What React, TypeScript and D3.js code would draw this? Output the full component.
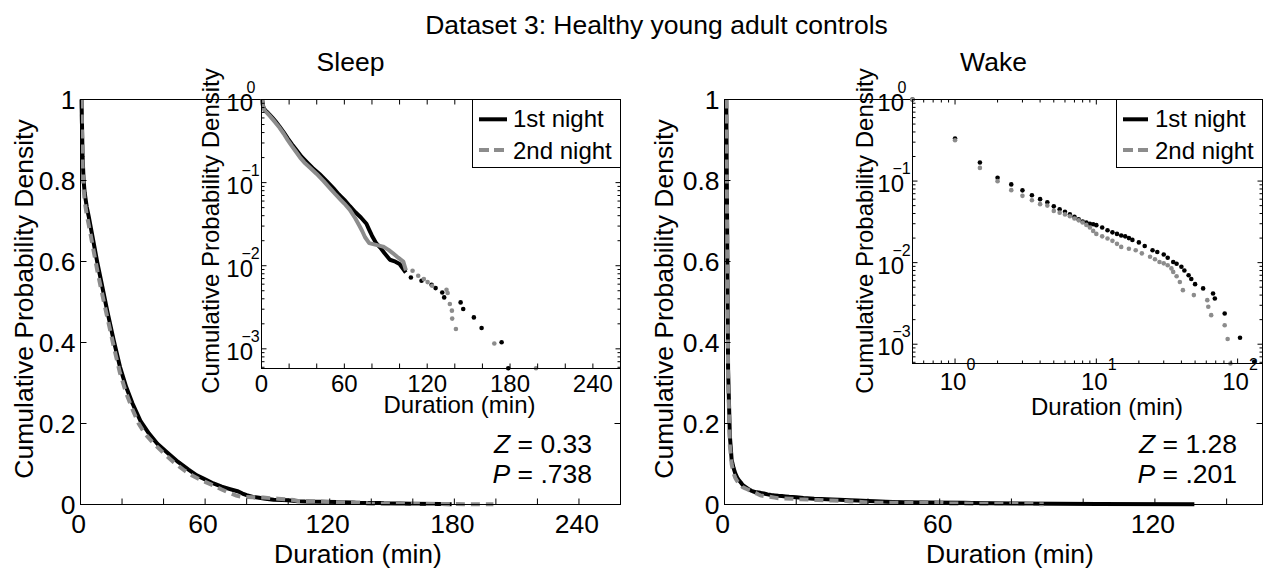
import React from 'react';
import * as d3 from 'd3';

const FONT = '"Liberation Sans", Arial, Helvetica, sans-serif';
const BLACK = '#000000';
const GRAY = '#8c8c8c';
const MAIN_FS = 26.5;
const INSET_FS = 24;
const SUP_FS = 16;

// ---------------- Data: Sleep ----------------
const sleepN1Dur = [0.5, 1, 1.5, 2, 3, 4, 6, 8, 10, 13, 16, 19, 22, 25, 29, 33, 37, 42, 47, 52, 56, 60, 64, 68, 72, 76, 78, 80, 83, 86, 89, 93, 97, 100, 104.5];
const sleepN1Val = [1, 0.86, 0.8, 0.77, 0.735, 0.71, 0.655, 0.6, 0.55, 0.475, 0.405, 0.34, 0.29, 0.25, 0.205, 0.175, 0.15, 0.127, 0.105, 0.086, 0.072, 0.062, 0.052, 0.044, 0.038, 0.032, 0.027, 0.023, 0.0187, 0.0165, 0.0142, 0.0118, 0.0112, 0.0105, 0.0083];
const sleepN1TailDur = [108.2, 115.9, 123.2, 126.1, 130.9, 132.3, 144.2, 146.1, 153.8, 159.4, 173.9, 178.7];
const sleepN1TailVal = [0.00722, 0.00659, 0.0059, 0.00538, 0.00477, 0.00416, 0.00362, 0.00301, 0.00239, 0.00178, 0.0012, 0.000583];

const sleepN2Dur = [0.5, 1, 1.5, 2, 3, 4, 6, 8, 10, 13, 16, 19, 22, 25, 28, 31, 35, 40, 45, 50, 54, 57, 60, 64, 68, 71, 73, 75, 78, 83, 88, 92, 95, 99, 102.7, 104.6];
const sleepN2Val = [1, 0.84, 0.78, 0.75, 0.715, 0.69, 0.635, 0.58, 0.53, 0.46, 0.39, 0.325, 0.275, 0.235, 0.2, 0.175, 0.152, 0.127, 0.104, 0.084, 0.071, 0.063, 0.056, 0.047, 0.037, 0.03, 0.026, 0.022, 0.0187, 0.0178, 0.017, 0.0155, 0.0142, 0.0125, 0.0112, 0.0088];
const sleepN2TailDur = [109.4, 113.5, 117.6, 120.3, 123.6, 134, 134.8, 136.4, 137.9, 138.1, 140.8, 168.6, 198.8];
const sleepN2TailVal = [0.00869, 0.00757, 0.0069, 0.00635, 0.00574, 0.00514, 0.00469, 0.00346, 0.00288, 0.00231, 0.00173, 0.00116, 0.000583];

// ---------------- Data: Wake ----------------
const wakeN1Dur = [0.5, 1, 1.5, 2, 2.5, 3, 3.5, 4, 4.5, 5, 5.5, 6, 6.5, 7, 7.5, 8, 8.5, 9, 9.5, 10, 11, 12, 13, 14, 15, 16, 17, 18, 20, 22, 25, 27, 30, 32, 35, 37, 40, 42, 45, 47, 50, 57, 67, 69, 81, 104, 131];
const wakeN1Val = [1, 0.333, 0.169, 0.11, 0.091, 0.077, 0.067, 0.06, 0.055, 0.049, 0.045, 0.042, 0.039, 0.0365, 0.034, 0.032, 0.031, 0.03, 0.0295, 0.0288, 0.027, 0.025, 0.0235, 0.0225, 0.0215, 0.021, 0.02, 0.019, 0.0177, 0.016, 0.0142, 0.0135, 0.0126, 0.0115, 0.0102, 0.0097, 0.0089, 0.008, 0.007, 0.0063, 0.00545, 0.00483, 0.00419, 0.00364, 0.00238, 0.0012, 0.00061];

const wakeN2Dur = [0.5, 1, 1.5, 2, 2.5, 3, 3.5, 4, 4.5, 5, 5.5, 6, 6.5, 7, 7.5, 8, 8.5, 9, 9.5, 10, 11, 12, 13, 14, 15, 17, 19, 21, 24, 26, 28, 30, 32, 34, 35, 37, 39, 41, 49, 61, 62, 65, 81, 85, 89];
const wakeN2Val = [1, 0.317, 0.145, 0.0997, 0.0774, 0.0659, 0.0583, 0.0521, 0.05, 0.0431, 0.041, 0.039, 0.037, 0.0348, 0.033, 0.031, 0.029, 0.027, 0.0245, 0.0225, 0.021, 0.0198, 0.0185, 0.017, 0.0156, 0.0148, 0.0142, 0.013, 0.0118, 0.011, 0.0102, 0.0098, 0.0093, 0.0085, 0.0077, 0.0068, 0.0058, 0.0046, 0.004, 0.00347, 0.00288, 0.00227, 0.00171, 0.00116, 0.00058];

// ---------------- Ticks / labels ----------------
const mainYTicks = [0, 0.2, 0.4, 0.6, 0.8, 1];
const mainYTickLabels = ['0', '0.2', '0.4', '0.6', '0.8', '1'];
const sleepXTicks = [0, 20, 40, 60, 80, 100, 120, 140, 160, 180, 200, 220, 240];
const sleepXLabels = [0, 60, 120, 180, 240];
const wakeXTicks = [0, 20, 40, 60, 80, 100, 120, 140];
const wakeXLabels = [0, 60, 120];
const logYMajor = [1e-3, 1e-2, 1e-1, 1];
const logYExp = ['\u22123', '\u22122', '\u22121', '0'];
const wakeInsetXMajor = [1, 10, 100];
const wakeInsetXExp = ['0', '1', '2'];
const legendLabels = ['1st night', '2nd night'];
const statsSleep = ['0.33', '.738'];
const statsWake = ['1.28', '.201'];

const zip = (a: number[], b: number[]) => a.map((v, i) => [v, b[i]] as [number, number]);

function logMinors(lo: number, hi: number) {
  const out: number[] = [];
  for (let e = -5; e <= 3; e++) {
    for (let k = 2; k <= 9; k++) {
      const v = k * Math.pow(10, e);
      if (v > lo * 1.0001 && v < hi * 0.9999) out.push(v);
    }
  }
  return out;
}

type Box = { x0: number; x1: number; y0: number; y1: number };

function MainPanel(p: {
  box: Box; xMax: number; xTicks: number[]; xLabels: number[];
  a: [number, number][]; b: [number, number][];
  title: string; xLabelX: number; yLabelX: number; stats: string[]; statsX: number;
}) {
  const { x0, x1, y0, y1 } = p.box;
  const x = d3.scaleLinear().domain([0, p.xMax]).range([x0, x1]);
  const y = d3.scaleLinear().domain([0, 1]).range([y1, y0]);
  const line = d3.line<[number, number]>().x(d => x(d[0])).y(d => y(d[1]));
  return (
    <g>
      <path d={line(p.a) || ''} fill="none" stroke={BLACK} strokeWidth={4} strokeLinejoin="round" />
      <path d={line(p.b) || ''} fill="none" stroke={GRAY} strokeWidth={4} strokeDasharray="9,6" />
      <rect x={x0} y={y0} width={x1 - x0} height={y1 - y0} fill="none" stroke="#000" strokeWidth={1} />
      {p.xTicks.map(t => (
        <line key={'xt' + t} x1={x(t)} x2={x(t)} y1={y1} y2={y1 - 6} stroke="#000" strokeWidth={1} />
      ))}
      {mainYTicks.map(v => (
        <g key={'yt' + v}>
          <line x1={x0} x2={x0 + 6} y1={y(v)} y2={y(v)} stroke="#000" strokeWidth={1} />
          <line x1={x1} x2={x1 - 6} y1={y(v)} y2={y(v)} stroke="#000" strokeWidth={1} />
        </g>
      ))}
      {mainYTicks.map((v, i) => (
        <text key={'yl' + v} x={x0 - 5} y={y(v) + 9.5} fontSize={MAIN_FS} textAnchor="end">{mainYTickLabels[i]}</text>
      ))}
      {p.xLabels.map(t => (
        <text key={'xl' + t} x={x(t) - 2} y={533} fontSize={MAIN_FS} textAnchor="middle">{String(t)}</text>
      ))}
      <text x={p.xLabelX} y={563} fontSize={MAIN_FS} textAnchor="middle">Duration (min)</text>
      <text transform={`translate(${p.yLabelX},299) rotate(-90)`} fontSize={MAIN_FS} textAnchor="middle">Cumulative Probability Density</text>
      <text x={(x0 + x1) / 2} y={71} fontSize={MAIN_FS} textAnchor="middle">{p.title}</text>
      <text x={p.statsX} y={453} fontSize={MAIN_FS} textAnchor="end"><tspan fontStyle="italic">Z</tspan> = {p.stats[0]}</text>
      <text x={p.statsX} y={483} fontSize={MAIN_FS} textAnchor="end"><tspan fontStyle="italic">P</tspan> = {p.stats[1]}</text>
    </g>
  );
}

function Legend(p: { lx0: number; lx1: number; y0: number; lineX0: number; lineX1: number; textX: number }) {
  return (
    <g>
      <rect x={p.lx0} y={p.y0} width={p.lx1 - p.lx0} height={167.5 - p.y0} fill="#fff" stroke="#000" strokeWidth={1} />
      <line x1={p.lineX0} x2={p.lineX1} y1={119.3} y2={119.3} stroke={BLACK} strokeWidth={4} />
      <line x1={p.lineX0} x2={p.lineX1} y1={150} y2={150} stroke={GRAY} strokeWidth={4} strokeDasharray="10,5" />
      <text x={p.textX} y={127} fontSize={INSET_FS}>{legendLabels[0]}</text>
      <text x={p.textX} y={159} fontSize={INSET_FS}>{legendLabels[1]}</text>
    </g>
  );
}

function LogYAxis(p: { box: Box; y: d3.ScaleLogarithmic<number, number> }) {
  const { x0, x1 } = p.box;
  const minors = logMinors(p.y.domain()[0], p.y.domain()[1]);
  return (
    <g>
      {logYMajor.map((v, i) => (
        <g key={'ly' + v}>
          <line x1={x0} x2={x0 + 5} y1={p.y(v)} y2={p.y(v)} stroke="#000" />
          <line x1={x1} x2={x1 - 5} y1={p.y(v)} y2={p.y(v)} stroke="#000" />
          <text x={x0 - 8.5} y={p.y(v) + 11} fontSize={INSET_FS} textAnchor="end">10</text>
          <text x={v === 1 ? x0 - 15 : x0 - 20} y={p.y(v) - 7} fontSize={SUP_FS}>{logYExp[i]}</text>
        </g>
      ))}
      {minors.map(v => (
        <g key={'lym' + v}>
          <line x1={x0} x2={x0 + 3} y1={p.y(v)} y2={p.y(v)} stroke="#000" />
          <line x1={x1} x2={x1 - 3} y1={p.y(v)} y2={p.y(v)} stroke="#000" />
        </g>
      ))}
    </g>
  );
}

function SleepInset(p: { box: Box }) {
  const { x0, x1, y0, y1 } = p.box;
  const x = d3.scaleLinear().domain([0, 260]).range([x0, x1]);
  const y = d3.scaleLog().domain([0.00058, 1]).range([y1, y0]);
  const line = d3.line<[number, number]>().x(d => x(d[0])).y(d => y(d[1]));
  const a = zip(sleepN1Dur, sleepN1Val);
  const b = zip(sleepN2Dur, sleepN2Val);
  const at = zip(sleepN1TailDur, sleepN1TailVal);
  const bt = zip(sleepN2TailDur, sleepN2TailVal);
  return (
    <g>
      <rect x={x0} y={y0} width={x1 - x0} height={y1 - y0} fill="#fff" />
      <path d={line(a) || ''} fill="none" stroke={BLACK} strokeWidth={4} strokeLinejoin="round" />
      {at.map((d, i) => <circle key={'a' + i} cx={x(d[0])} cy={y(d[1])} r={2.3} fill={BLACK} />)}
      <path d={line(b) || ''} fill="none" stroke={GRAY} strokeWidth={4} strokeLinejoin="round" />
      {bt.map((d, i) => <circle key={'b' + i} cx={x(d[0])} cy={y(d[1])} r={2.3} fill={GRAY} />)}
      <rect x={x0} y={y0} width={x1 - x0} height={y1 - y0} fill="none" stroke="#000" strokeWidth={1} />
      {sleepXTicks.map(t => (
        <g key={'sxt' + t}>
          <line x1={x(t)} x2={x(t)} y1={y1} y2={y1 - 5} stroke="#000" />
          <line x1={x(t)} x2={x(t)} y1={y0} y2={y0 + 5} stroke="#000" />
        </g>
      ))}
      {sleepXLabels.map(t => (
        <text key={'sxl' + t} x={x(t)} y={392} fontSize={INSET_FS} textAnchor="middle">{String(t)}</text>
      ))}
      <LogYAxis box={p.box} y={y} />
      <text x={459.5} y={413} fontSize={INSET_FS} textAnchor="middle">Duration (min)</text>
      <text transform={`translate(219,231) rotate(-90)`} fontSize={INSET_FS} textAnchor="middle">Cumulative Probability Density</text>
      <Legend lx0={472.5} lx1={x1} y0={y0} lineX0={479} lineX1={507} textX={513} />
    </g>
  );
}

function WakeInset(p: { box: Box }) {
  const { x0, x1, y0, y1 } = p.box;
  const x = d3.scaleLog().domain([0.5, 150]).range([x0, x1]);
  const y = d3.scaleLog().domain([0.00058, 1]).range([y1, y0]);
  const a = zip(wakeN1Dur, wakeN1Val);
  const b = zip(wakeN2Dur, wakeN2Val);
  const xMinors = logMinors(0.5, 150);
  return (
    <g>
      <rect x={x0} y={y0} width={x1 - x0} height={y1 - y0} fill="#fff" />
      {a.map((d, i) => <circle key={'a' + i} cx={x(d[0])} cy={y(d[1])} r={2.3} fill={BLACK} />)}
      {b.map((d, i) => <circle key={'b' + i} cx={x(d[0])} cy={y(d[1])} r={2.3} fill={GRAY} />)}
      <rect x={x0} y={y0} width={x1 - x0} height={y1 - y0} fill="none" stroke="#000" strokeWidth={1} />
      {wakeInsetXMajor.map((t, i) => (
        <g key={'wxt' + t}>
          <line x1={x(t)} x2={x(t)} y1={y1} y2={y1 - 5} stroke="#000" />
          <line x1={x(t)} x2={x(t)} y1={y0} y2={y0 + 5} stroke="#000" />
          <text x={x(t) - 2} y={390} fontSize={INSET_FS} textAnchor="middle">10</text>
          <text x={x(t) + 11.5} y={370} fontSize={SUP_FS}>{wakeInsetXExp[i]}</text>
        </g>
      ))}
      {xMinors.map(t => (
        <g key={'wxm' + t}>
          <line x1={x(t)} x2={x(t)} y1={y1} y2={y1 - 3} stroke="#000" />
          <line x1={x(t)} x2={x(t)} y1={y0} y2={y0 + 3} stroke="#000" />
        </g>
      ))}
      <LogYAxis box={p.box} y={y} />
      <text x={1107} y={415} fontSize={INSET_FS} textAnchor="middle">Duration (min)</text>
      <text transform={`translate(873,231) rotate(-90)`} fontSize={INSET_FS} textAnchor="middle">Cumulative Probability Density</text>
      <Legend lx0={1116.5} lx1={x1} y0={y0} lineX0={1123} lineX1={1148} textX={1155} />
    </g>
  );
}

export default function App() {
  const sleepA = [...zip(sleepN1Dur, sleepN1Val), ...zip(sleepN1TailDur, sleepN1TailVal)];
  const sleepB = [...zip(sleepN2Dur, sleepN2Val), ...zip(sleepN2TailDur, sleepN2TailVal)];
  const wakeA = zip(wakeN1Dur, wakeN1Val);
  const wakeB = zip(wakeN2Dur, wakeN2Val);
  return (
    <svg width={1270} height={569} viewBox="0 0 1270 569"
      style={{ position: 'absolute', left: 0, top: 0, display: 'block', background: '#fff' }}
      fontFamily={FONT}>
      <rect x={0} y={0} width={1270} height={569} fill="#fff" />
      <text x={656.5} y={33.5} fontSize={MAIN_FS} textAnchor="middle">Dataset 3: Healthy young adult controls</text>
      <MainPanel box={{ x0: 80.5, x1: 620.5, y0: 99.5, y1: 504.5 }} xMax={260} xTicks={sleepXTicks} xLabels={sleepXLabels}
        a={sleepA} b={sleepB} title="Sleep" xLabelX={358} yLabelX={33} stats={statsSleep} statsX={592} />
      <MainPanel box={{ x0: 724.5, x1: 1262.5, y0: 99.5, y1: 504.5 }} xMax={150} xTicks={wakeXTicks} xLabels={wakeXLabels}
        a={wakeA} b={wakeB} title="Wake" xLabelX={1010} yLabelX={673} stats={statsWake} statsX={1237} />
      <SleepInset box={{ x0: 261.5, x1: 620.5, y0: 99.5, y1: 368.5 }} />
      <WakeInset box={{ x0: 912.5, x1: 1262.5, y0: 99.5, y1: 363.5 }} />
    </svg>
  );
}
